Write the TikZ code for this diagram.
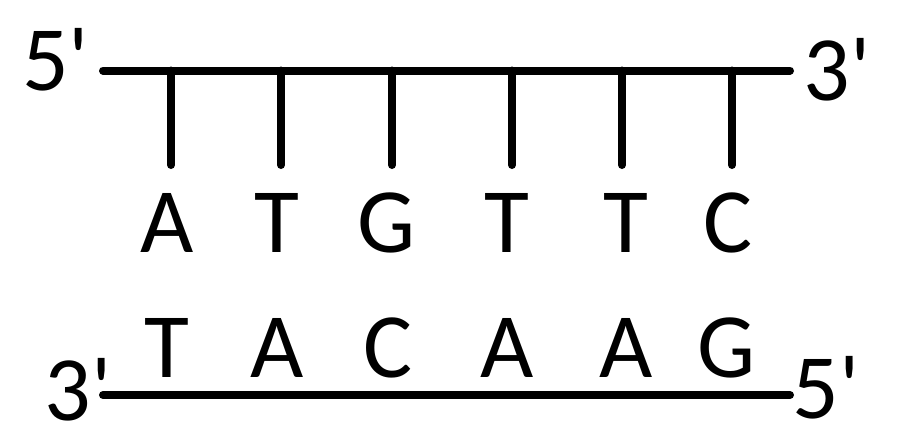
\documentclass[tikz,border=0pt]{standalone}
\usepackage{fontspec}
\setmainfont{Carlito}[Ligatures=TeXOff]
\begin{document}
\begin{tikzpicture}[x=1pt,y=-1pt,
  strand/.style={line width=8pt,line cap=round},
  bond/.style={line width=8pt,line cap=round},
  base/.style={inner sep=0pt,anchor=base,font=\fontsize{92}{100}\selectfont},
  endlabel/.style={inner sep=0pt,anchor=base,font=\fontsize{92}{100}\selectfont}]
\useasboundingbox (0,0) rectangle (900,445);
% top strand
\coordinate (t0) at (103,70.5);
\coordinate (t1) at (790,70.5);
\draw[strand] (t0) -- (t1);
\node[endlabel] (t5) at (55.5,90) {5'};
\node[endlabel] (t3) at (837,100) {3'};
% ticks
\foreach \i/\x in {1/171,2/281,3/392,4/512,5/622,6/732}{
  \coordinate (a\i) at (\x,70.5);
  \coordinate (b\i) at (\x,165);
  \draw[bond] (a\i) -- (b\i);
}
% top bases
\node[base] (n1) at (167,252) {A};
\node[base] (n2) at (277,252) {T};
\node[base] (n3) at (387,252) {G};
\node[base] (n4) at (507,252) {T};
\node[base] (n5) at (626,252) {T};
\node[base] (n6) at (728,252) {C};
% bottom bases
\node[base] (m1) at (167,377) {T};
\node[base] (m2) at (277,377) {A};
\node[base] (m3) at (388,377) {C};
\node[base] (m4) at (507,377) {A};
\node[base] (m5) at (626,377) {A};
\node[base] (m6) at (727,377) {G};
% bottom strand
\coordinate (s0) at (103,395);
\coordinate (s1) at (790,395);
\draw[strand] (s0) -- (s1);
\node[endlabel] (s3) at (78,420) {3'};
\node[endlabel] (s5) at (826,418) {5'};
\end{tikzpicture}
\end{document}
